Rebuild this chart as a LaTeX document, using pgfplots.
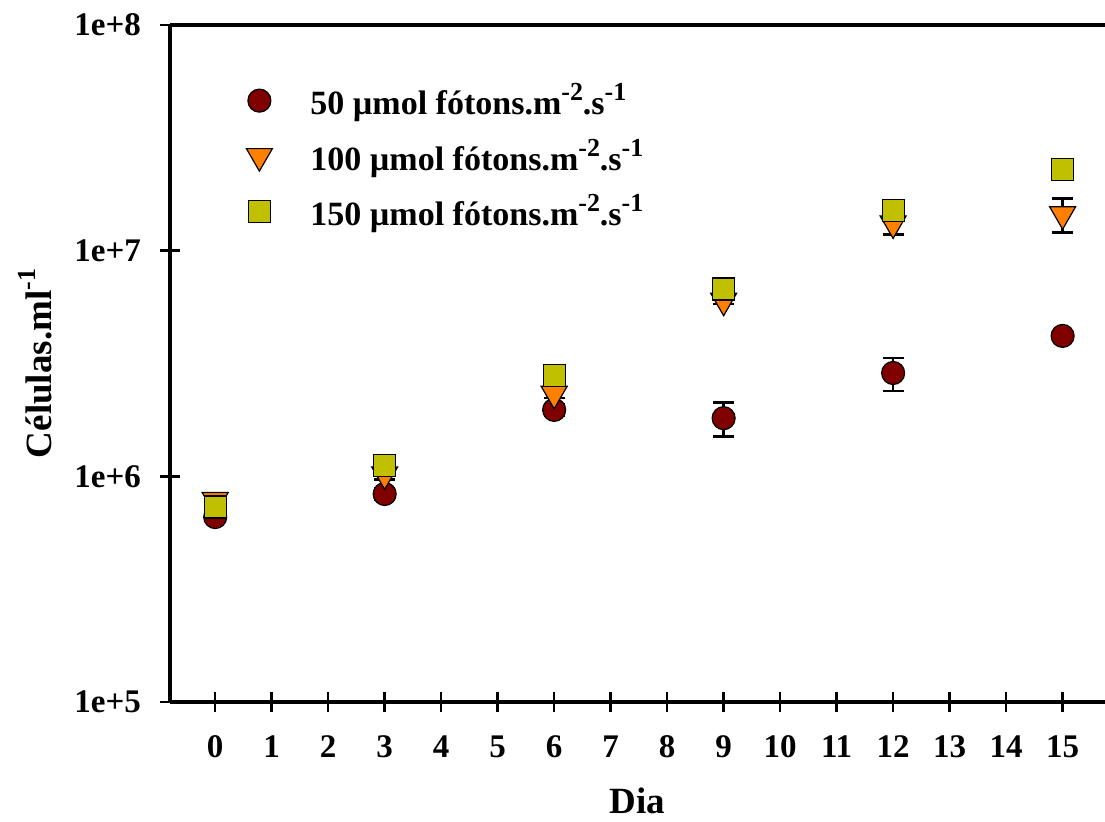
\documentclass[border=0pt]{standalone}
\usepackage{pgfplots}
\pgfplotsset{compat=1.18}
\usepackage{fontspec}
\setmainfont{Liberation Serif}
\definecolor{cMaroon}{HTML}{800000}
\definecolor{cOrange}{HTML}{FF8000}
\definecolor{cOlive}{HTML}{C0C000}
\newcommand\sups[1]{\raisebox{0.42em}{\fontsize{13}{14}\selectfont #1}}

\begin{document}
\begin{tikzpicture}
\useasboundingbox (-85pt,-60pt) rectangle (467.5pt,351pt);
\begin{axis}[
  scale only axis, width=467.5pt, height=338.5pt,
  ymode=log, ymin=1e5, ymax=1e8,
  xmin=-0.8, xmax=15.75,
  axis x line*=box, axis y line*=left,
  xtick={0,...,15}, ytick={1e5,1e6,1e7,1e8},
  yticklabels={1e+5,1e+6,1e+7,1e+8},
  yminorticks=false,
  xtick pos=left, ytick pos=left,
  tick align=center, major tick length=10pt,
  axis line style={line width=1.6pt},
  every tick/.style={black, line width=1.3pt},
  ticklabel style={font=\fontsize{16.5}{19}\selectfont\bfseries},
  /pgf/number format/assume math mode=true,
  xticklabel style={yshift=-8.5pt},
  yticklabel style={xshift=-6pt},
  xlabel={Dia}, ylabel={Células.ml\sups{-1}},
  label style={font=\fontsize{18.5}{22}\selectfont\bfseries},
  x label style={at={(axis description cs:0.5,-0.117)}, anchor=north},
  y label style={at={(axis description cs:-0.119,0.5)}, anchor=south},
  legend style={draw=none, fill=none, at={(axis description cs:0,1)},
    anchor=north west, xshift=35pt, yshift=-25pt,
    font=\fontsize{17}{20}\selectfont\bfseries, row sep=6.5pt,
    column sep=17pt},
  legend cell align=left,
  legend image code/.code={\draw[#1] plot coordinates {(0pt,0pt)};},
  error bars/error bar style={black, line width=1.3pt},
  error bars/error mark options={rotate=90, mark size=5.25pt, line width=1.3pt, black},
]
% 50 umol
\addplot[only marks, mark=*, mark size=5.75pt,
  mark options={fill=cMaroon, draw=black, line width=0.6pt},
  error bars/.cd, y dir=both, y explicit] coordinates {
  (0,6.6e5) +- (0,0.3e5)
  (3,8.35e5) +- (0,0.5e5)
  (6,1.97e6) +- (0,0.12e6)
  (9,1.81e6) +- (0,0.31e6)
  (12,2.87e6) +- (0,0.48e6)
  (15,4.19e6) +- (0,0.15e6)
};
\addlegendentry{50 µmol fótons.m\sups{-2}.s\sups{-1}}
% 100 umol
\addplot[only marks, mark=triangle*, mark size=7.5pt,
  mark options={rotate=180, fill=cOrange, draw=black, line width=0.6pt},
  error bars/.cd, y dir=both, y explicit] coordinates {
  (0,7.85e5) +- (0,0.2e5)
  (3,1.02e6) +- (0,0.05e6)
  (6,2.32e6) +- (0,0.1e6)
  (9,6.0e6) +- (0,0.2e6)
  (12,1.32e7) +- (0,0.14e7)
  (15,1.45e7) +- (0,0.25e7)
};
\addlegendentry{100 µmol fótons.m\sups{-2}.s\sups{-1}}
% 150 umol
\addplot[only marks, mark=square*, mark size=5.5pt,
  mark options={fill=cOlive, draw=black, line width=0.6pt},
  error bars/.cd, y dir=both, y explicit] coordinates {
  (0,7.31e5) +- (0,0.2e5)
  (3,1.12e6) +- (0,0.04e6)
  (6,2.79e6) +- (0,0.1e6)
  (9,6.76e6) +- (0,0.3e6)
  (12,1.51e7) +- (0,0.06e7)
  (15,2.28e7) +- (0,0.05e7)
};
\addlegendentry{150 µmol fótons.m\sups{-2}.s\sups{-1}}
\end{axis}
\end{tikzpicture}
\end{document}
